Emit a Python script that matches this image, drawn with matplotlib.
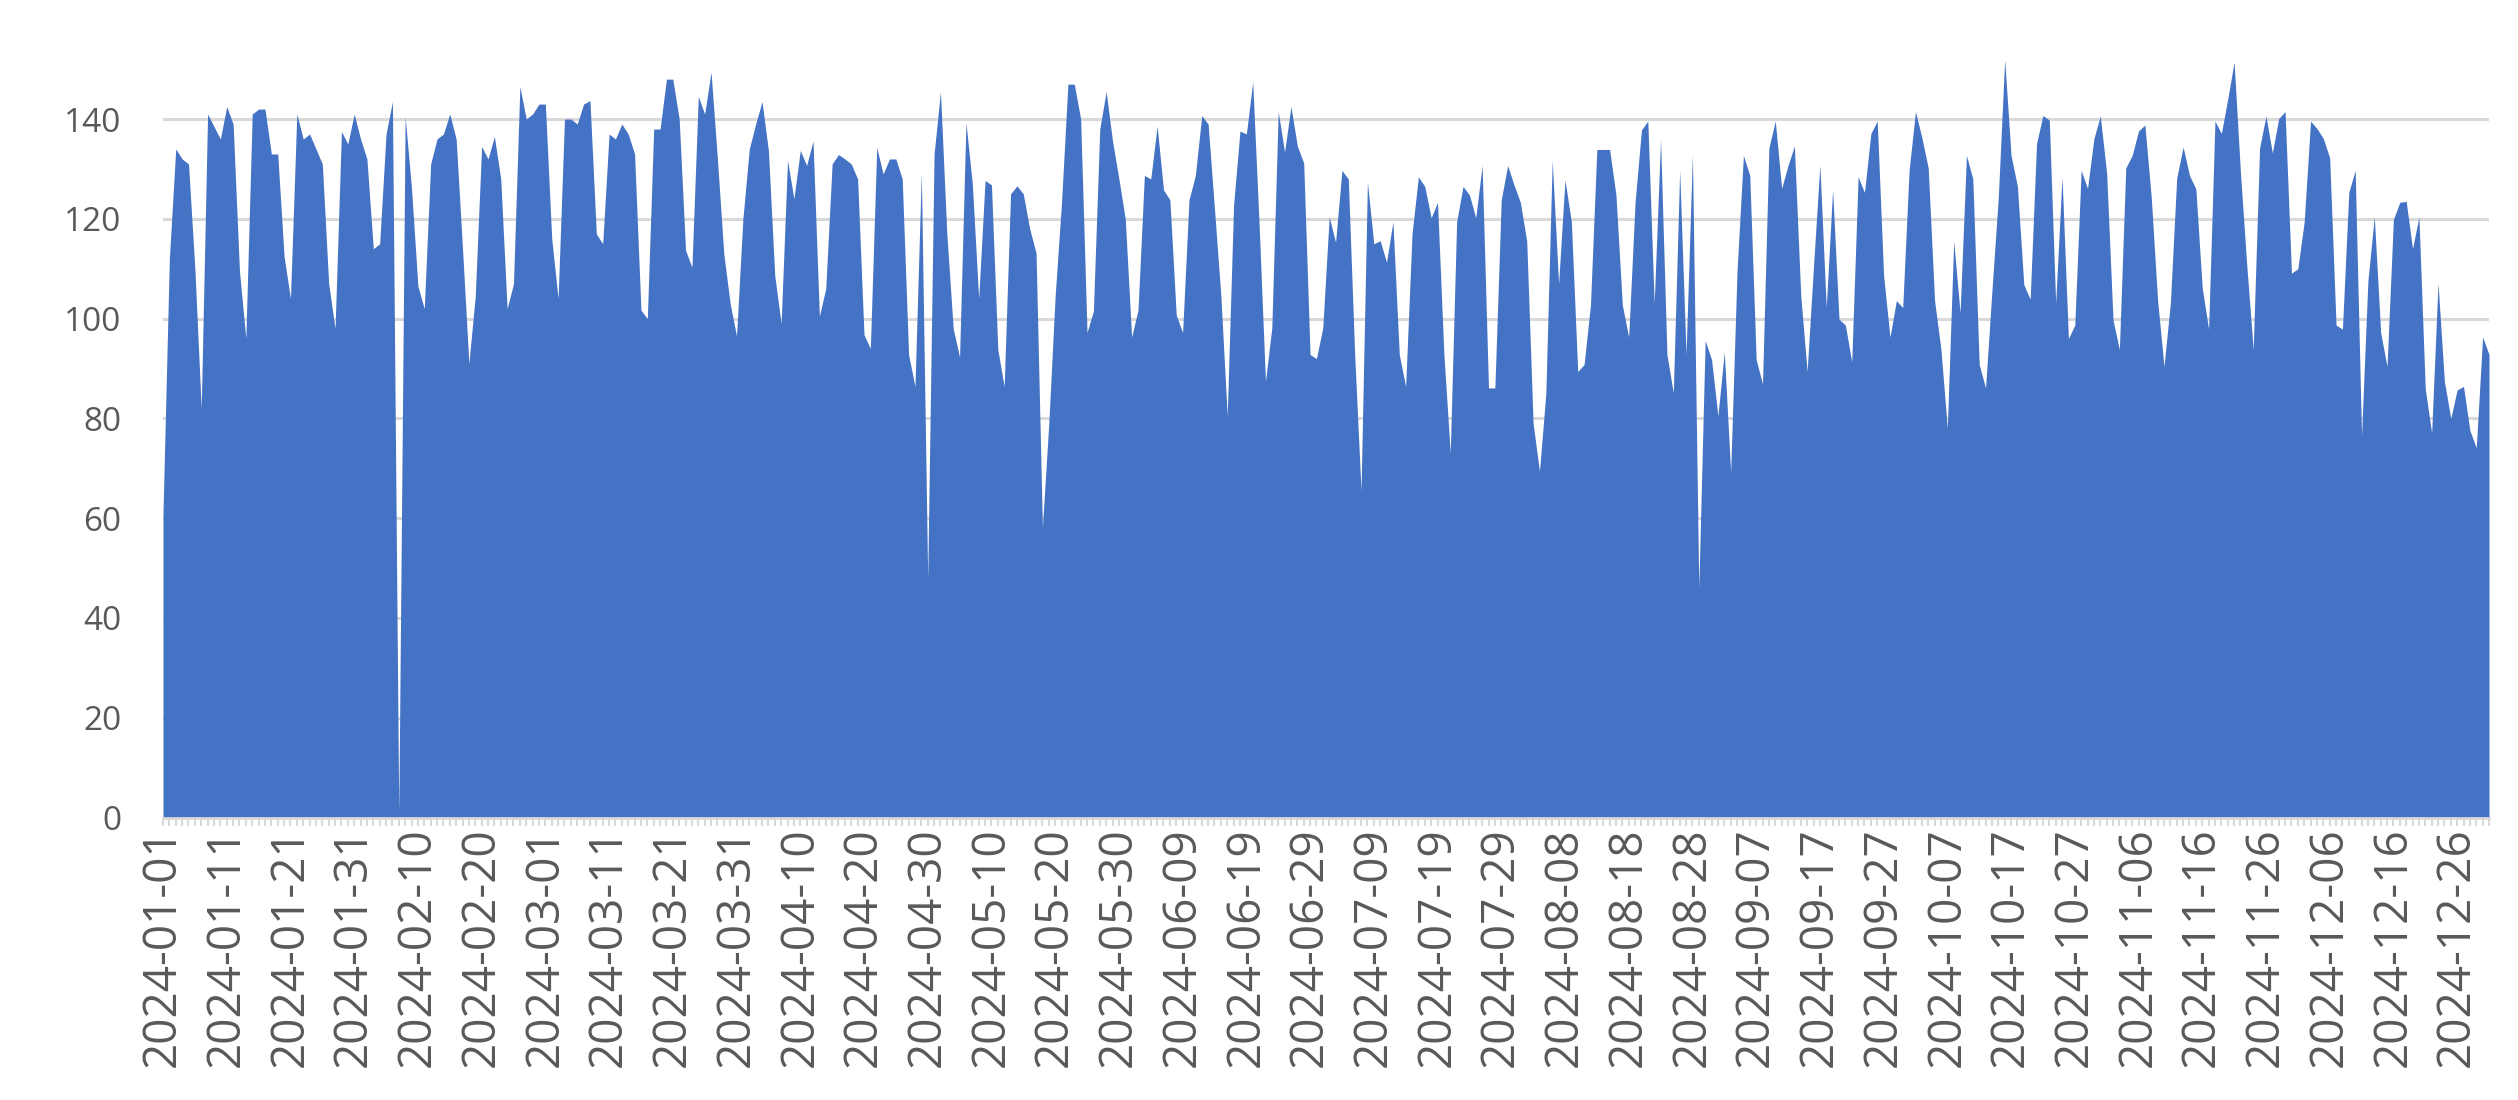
import matplotlib
matplotlib.use("Agg")
import matplotlib.pyplot as plt
import pandas as pd

dates = pd.date_range("2024-01-01", "2024-12-31", freq="D").strftime("%Y-%m-%d").tolist()

values = [
    61, 112, 134, 132, 131, 110, 82, 141, 138.5, 136, 142.5, 139, 109.5, 96, 141, 142, 142, 133, 133, 112.5,
    104, 141, 136, 137, 134, 131, 107, 98, 137.5, 135, 141, 136, 132, 114, 115, 137, 143.5, 1, 140.5, 126,
    106.5, 102, 131, 136, 137, 141, 136, 114, 91, 104.5, 134.5, 132, 136.5, 128, 102, 107, 146.5, 140, 141, 143,
    143, 116, 104, 140, 140, 139, 143, 143.7, 117, 115, 137, 136, 139, 137, 133, 101.7, 100, 138, 138, 148,
    148, 140, 113.7, 110.3, 144.5, 141, 149.4, 132, 113, 103, 96.5, 120, 134, 139, 143.5, 133.7, 108.6, 99, 131.7, 124,
    133.7, 130.7, 135.6, 100.5, 106, 131, 132.9, 132, 131, 128, 96.8, 94, 134.3, 129, 132, 132, 128, 92.8, 86.4, 129.2,
    48, 133, 145.5, 117, 98, 92.3, 139.3, 127, 104, 127.7, 126.8, 93.8, 86.4, 125, 126.6, 125, 118, 113.2, 58.2, 79,
    104.6, 123.3, 147, 147, 140, 97.2, 101.5, 138, 145.5, 135.6, 128, 120, 96.3, 101.7, 128.7, 128, 138.6, 125.8, 123.8, 100.7,
    97.2, 123.8, 128.7, 140.7, 139, 122, 104.6, 80.5, 122.8, 137.6, 137, 147.4, 119, 87.4, 98.2, 141.5, 133.4, 142.5, 134.6, 131.2,
    92.8, 92, 98.2, 120.4, 115.3, 129.7, 128, 92.8, 65.5, 127.3, 115, 115.6, 111.3, 119.4, 92.8, 86.4, 117, 128.4, 126.5, 120.2,
    123.3, 92.8, 73.1, 119.4, 126.5, 124.8, 120.2, 130.7, 86.1, 86.1, 123.8, 130.7, 126.8, 123.3, 115.5, 79, 69.4, 85, 131.7, 107,
    127.8, 119.4, 89.4, 90.8, 102.7, 133.9, 133.9, 133.9, 124.8, 102.7, 96.3, 123.3, 137.8, 139.6, 103.1, 135.9, 92.8, 85.1, 129.7, 92.8,
    132.9, 46, 95.6, 91.8, 80.5, 93.3, 69.2, 109.5, 132.7, 128.7, 91.8, 86.9, 134.2, 139.6, 126.1, 130.7, 134.6, 104.6, 89.4, 110.5,
    130.7, 102.2, 125.8, 99.9, 98.7, 91.3, 128.4, 125.3, 137.1, 139.6, 108.6, 96.3, 103.6, 102.2, 129.7, 141.5, 136.3, 130.2, 103.6, 93.8,
    78, 115.5, 101.2, 132.7, 128, 90.8, 86.1, 105.6, 124.3, 151.9, 132.7, 126.5, 106.8, 103.9, 135.1, 140.7, 139.8, 103.1, 128.4, 96,
    98.7, 129.7, 126.1, 136.1, 140.6, 129.2, 99.7, 93.8, 130.2, 132.7, 137.6, 138.8, 124.3, 103.6, 90.4, 103.1, 128.2, 134.4, 128.7, 126,
    106.1, 97.9, 139.6, 137.1, 144, 151.4, 129.2, 110.5, 93.8, 134.2, 140.6, 133.2, 140.1, 141.5, 109.1, 110, 119.4, 139.6, 138.1, 136.1,
    132.2, 98.7, 97.9, 125.3, 129.7, 76.6, 107.6, 120.4, 97.2, 90.4, 119.9, 123.3, 123.5, 114, 120.4, 85.9, 77.1, 107.1, 87.4, 80,
    85.7, 86.4, 77.6, 74.1, 96.3, 92.8,
]

yticks = [0, 20, 40, 60, 80, 100, 120, 140]
label_step = 10

plt.rcParams['font.family'] = ['Open Sans', 'DejaVu Sans']

W, H = 2518, 1100
fig = plt.figure(figsize=(W / 100, H / 100), dpi=100)
left, right = 163, 2489
y0 = 817.5
ytop = 155
px_per_unit = 4.989
top = y0 - ytop * px_per_unit
ax = fig.add_axes([left / W, 1 - y0 / H, (right - left) / W, (y0 - top) / H])

x = list(range(len(values)))
ax.fill_between(x, values, 0, color='#4472C4', lw=0, zorder=2)

ax.set_xlim(0, len(values) - 1)
ax.set_ylim(0, ytop)
ax.set_yticks(yticks)
ax.yaxis.grid(True, color='#D9D9D9', lw=2.2, zorder=0)
ax.set_axisbelow(True)

for s in ['top', 'right', 'left']:
    ax.spines[s].set_visible(False)
ax.spines['bottom'].set_color('#D9D9D9')
ax.spines['bottom'].set_linewidth(2)

major = list(range(0, len(values), label_step))
ax.set_xticks(major)
ax.set_xticklabels([dates[i] for i in major], rotation=90, fontsize=33, color='#595959')
ax.set_xticks(x, minor=True)
ax.tick_params(axis='x', which='both', length=6, width=1.5, color='#D9D9D9', pad=1)
ax.tick_params(axis='y', length=0, pad=30, labelsize=24, labelcolor='#595959')

fig.savefig("out.png", dpi=100, facecolor='white')
